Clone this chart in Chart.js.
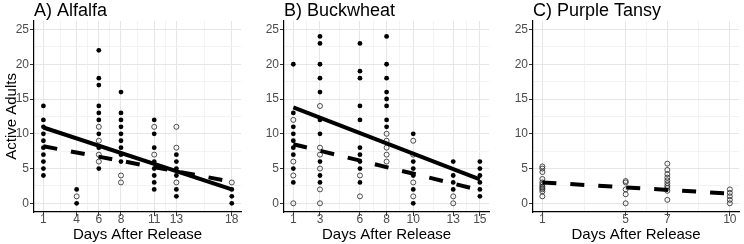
<!DOCTYPE html>
<html>
<head>
<meta charset="utf-8">
<script src="https://cdn.jsdelivr.net/npm/chart.js@4.4.0/dist/chart.umd.min.js"></script>
<style>
  body { margin: 0; background: #fff; }
  #wrap { position: relative; width: 744px; height: 244px; }
  canvas { position: absolute; top: 0; }
</style>
</head>
<body>
<div id="wrap">
  <canvas id="graficoA" width="246" height="244" style="left:0"></canvas>
  <canvas id="graficoB" width="248" height="244" style="left:246px"></canvas>
  <canvas id="graficoC" width="250" height="244" style="left:494px"></canvas>
</div>
<script>
// Shared y axis
const yTicks = [0, 5, 10, 15, 20, 25];
const yMinor = [2.5, 7.5, 12.5, 17.5, 22.5];

// A) Alfalfa
const alfalfaDays = [1, 4, 6, 8, 11, 13, 18];
const alfalfaMinor = [2.5, 5, 7, 9.5, 12, 15.5];
const alfalfaFilled = [
  [14, 12, 11, 10, 9, 8, 7, 6, 5, 4],
  [2, 0],
  [22, 18, 17, 14, 13, 12, 10, 8, 5],
  [16, 13, 12, 11, 10, 9, 8, 7, 6],
  [12, 10, 8, 6, 5, 4, 3, 2],
  [7, 6, 5, 4, 2, 1],
  [2, 1, 0]
];
const alfalfaOpen = [
  [],
  [1],
  [11, 9, 7, 6],
  [4, 3],
  [11, 7],
  [11, 8, 3],
  [3]
];
const alfalfaSolid = [10.9, 2.0];
const alfalfaDashed = [8.2, 3.1];

// B) Buckwheat
const buckwheatDays = [1, 3, 6, 8, 10, 13, 15];
const buckwheatMinor = [2, 4.5, 7, 9, 11.5, 14];
const buckwheatFilled = [
  [20, 13, 11, 10, 9, 8, 7, 5, 3],
  [24, 23, 20, 18, 16, 12, 10, 6, 4, 3],
  [23, 19, 18, 14, 12, 8, 7, 6, 5, 3],
  [24, 20, 18, 16, 15, 14, 12, 11],
  [10, 6, 5, 4, 2, 0],
  [6, 4, 3, 2],
  [6, 5, 4, 3, 2, 1]
];
const buckwheatOpen = [
  [12, 6, 4, 0],
  [14, 8, 7, 5, 2, 0],
  [4, 1],
  [10, 9, 8, 7, 6],
  [9, 7, 3, 1],
  [1, 0],
  []
];
const buckwheatSolid = [13.8, 3.45];
const buckwheatDashed = [8.5, 1.9];

// C) Purple Tansy
const tansyDays = [1, 5, 7, 10];
const tansyMinor = [3, 6, 8.5];
const tansyFilled = [[], [], [], []];
const tansyOpen = [
  [5.3, 5.0, 4.5, 3.5, 3.0, 2.7, 2.4, 2.2, 2.0, 1.7, 1.0],
  [3.2, 3.0, 2.0, 1.3, 0],
  [5.7, 4.8, 4.2, 3.7, 3.3, 2.9, 2.5, 2.2, 1.8, 0.5],
  [2.0, 1.5, 1.0, 0.5, 0]
];
const tansyDashed = [3.0, 1.4];

Chart.defaults.font.family = '"Liberation Sans", Arial, sans-serif';
Chart.defaults.animation = false;

function puntos(days, lists) {
  const out = [];
  days.forEach((d, i) => lists[i].forEach(v => out.push({ x: d, y: v })));
  return out;
}

function recta(days, fit) {
  return [{ x: days[0], y: fit[0] }, { x: days[days.length - 1], y: fit[1] }];
}

function ejeConMenores(majors, minors) {
  return (scale) => {
    const all = majors.concat(minors).filter(v => v >= scale.min && v <= scale.max);
    all.sort((a, b) => a - b);
    scale.ticks = all.map(v => ({ value: v }));
  };
}

function crearPanel(id, cfg) {
  const ctx = document.getElementById(id).getContext('2d');
  const datasets = [];
  if (cfg.solid) {
    datasets.push({
      data: recta(cfg.days, cfg.solid), showLine: true, pointRadius: 0,
      borderColor: '#000', borderWidth: 4, borderCapStyle: 'butt', order: 0
    });
  }
  datasets.push({
    data: recta(cfg.days, cfg.dashed), showLine: true, pointRadius: 0,
    borderColor: '#000', borderWidth: 4, borderDash: [14, 14], borderCapStyle: 'butt', order: 0
  });
  datasets.push({
    data: puntos(cfg.days, cfg.open), pointRadius: 2.5, pointBorderWidth: 0.8,
    pointBorderColor: '#222', pointBackgroundColor: 'rgba(0,0,0,0)', order: 1
  });
  datasets.push({
    data: puntos(cfg.days, cfg.filled), pointRadius: 2.4, pointBorderWidth: 0,
    pointBackgroundColor: '#000', order: 1
  });

  const minorX = new Set(cfg.minor);
  const minorY = new Set(yMinor);
  const gridColor = (set) => (c) => (c.tick && set.has(c.tick.value)) ? '#F3F3F3' : '#E6E6E6';
  const tickColor = (set) => (c) => (c.tick && set.has(c.tick.value)) ? 'rgba(0,0,0,0)' : '#333';

  return new Chart(ctx, {
    type: 'scatter',
    data: { datasets },
    options: {
      responsive: false,
      layout: { padding: { left: 0, right: cfg.padRight, top: 0, bottom: 0 } },
      plugins: {
        legend: { display: false },
        tooltip: { enabled: false },
        title: {
          display: true, text: cfg.title, align: 'start', fullSize: false,
          color: '#000', font: { size: 18, weight: 'normal', lineHeight: 1.1 },
          padding: { top: 1, bottom: 0 }
        }
      },
      scales: {
        x: {
          type: 'linear', min: cfg.xMin, max: cfg.xMax,
          afterBuildTicks: ejeConMenores(cfg.days, cfg.minor),
          afterFit: (s) => { s.height = 32; },
          ticks: {
            autoSkip: false, maxRotation: 0, padding: -2, color: '#4D4D4D',
            font: { size: 12, lineHeight: 1 },
            callback: (v) => cfg.days.includes(v) ? String(v) : ''
          },
          grid: { color: gridColor(minorX), tickColor: tickColor(minorX), tickLength: 4, lineWidth: 1 },
          border: { display: true, color: '#000', width: 1.2 },
          title: {
            display: true, text: 'Days After Release', color: '#000',
            font: { size: 15, lineHeight: 1.2 }, padding: { top: 0, bottom: 0 }
          }
        },
        y: {
          type: 'linear', min: -1.25, max: 26.25,
          afterBuildTicks: ejeConMenores(yTicks, yMinor),
          afterFit: (s) => { s.width = cfg.yWidth; },
          ticks: {
            autoSkip: false, padding: 1, color: '#4D4D4D', font: { size: 12 },
            callback: (v) => yTicks.includes(v) ? String(v) : ''
          },
          grid: { color: gridColor(minorY), tickColor: tickColor(minorY), tickLength: 4, lineWidth: 1 },
          border: { display: true, color: '#000', width: 1.2 },
          title: {
            display: !!cfg.yTitle, text: cfg.yTitle || '', color: '#000',
            font: { size: 15, lineHeight: 1.2 }, padding: { top: 3, bottom: 0 }
          }
        }
      }
    }
  });
}

document.addEventListener('DOMContentLoaded', () => {
  crearPanel('graficoA', {
    title: 'A) Alfalfa', yTitle: 'Active Adults', yWidth: 34, padRight: 4,
    days: alfalfaDays, minor: alfalfaMinor, xMin: 0.15, xMax: 18.85,
    filled: alfalfaFilled, open: alfalfaOpen, solid: alfalfaSolid, dashed: alfalfaDashed
  });
  crearPanel('graficoB', {
    title: 'B) Buckwheat', yWidth: 38, padRight: 0,
    days: buckwheatDays, minor: buckwheatMinor, xMin: 0.3, xMax: 15.7,
    filled: buckwheatFilled, open: buckwheatOpen, solid: buckwheatSolid, dashed: buckwheatDashed
  });
  crearPanel('graficoC', {
    title: 'C) Purple Tansy', yWidth: 39, padRight: 2,
    days: tansyDays, minor: tansyMinor, xMin: 0.55, xMax: 10.45,
    filled: tansyFilled, open: tansyOpen, solid: null, dashed: tansyDashed
  });
});
</script>
</body>
</html>
